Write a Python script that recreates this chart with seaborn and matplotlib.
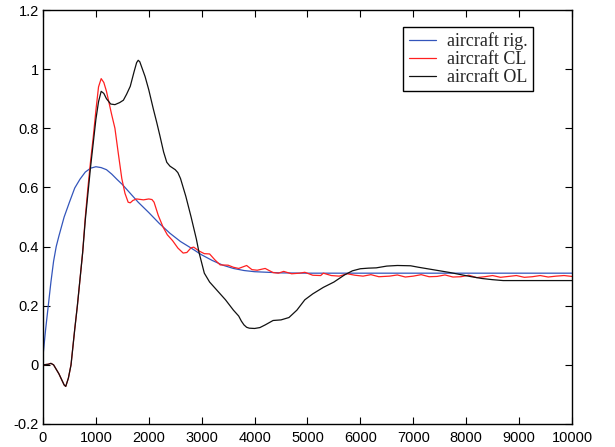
import matplotlib
matplotlib.use("Agg")
import matplotlib.pyplot as plt
import seaborn as sns

# ---------------- data ----------------
rig_x = [0, 50, 100, 150, 200, 250, 300, 400, 500, 600, 700, 800, 900, 1000, 1100,
         1200, 1300, 1400, 1500, 1600, 1800, 2000, 2200, 2400, 2600, 2800, 3000,
         3200, 3400, 3600, 3800, 4000, 4500, 5000, 10000]
rig_y = [0.03, 0.12, 0.20, 0.28, 0.35, 0.40, 0.435, 0.50, 0.55, 0.598, 0.628, 0.652,
         0.665, 0.670, 0.667, 0.660, 0.645, 0.627, 0.610, 0.590, 0.550, 0.515, 0.478,
         0.445, 0.417, 0.395, 0.372, 0.353, 0.337, 0.326, 0.319, 0.315, 0.311, 0.310,
         0.310]

cl_x = [0, 100, 150, 200, 300, 400, 430, 480, 530, 600, 650, 700, 750, 800, 850, 900,
        950, 1000, 1050, 1100, 1150, 1200, 1250, 1300, 1360, 1420, 1490, 1550, 1610,
        1650, 1700, 1770, 1900, 2000, 2060, 2100, 2180, 2270, 2350, 2450, 2550, 2650,
        2720, 2800, 2850, 2950, 3050, 3150, 3250, 3350, 3500, 3600, 3700, 3850, 3950,
        4050, 4200, 4350, 4450, 4550, 4700, 4850, 4950, 5100, 5250, 5300, 5450, 5600,
        5750, 5900, 6050, 6200, 6350, 6550, 6700, 6850, 7000, 7150, 7300, 7450, 7600,
        7750, 7900, 8050, 8200, 8350, 8500, 8650, 8800, 8950, 9100, 9250, 9400, 9550,
        9700, 9850, 10000]
cl_y = [0.0, 0.002, 0.005, 0.0, -0.03, -0.068, -0.073, -0.045, 0.0, 0.12, 0.20, 0.29,
        0.38, 0.50, 0.60, 0.69, 0.77, 0.86, 0.94, 0.968, 0.955, 0.925, 0.885, 0.845,
        0.800, 0.720, 0.630, 0.580, 0.550, 0.548, 0.556, 0.561, 0.558, 0.561, 0.559,
        0.550, 0.505, 0.466, 0.440, 0.420, 0.395, 0.378, 0.380, 0.396, 0.398, 0.385,
        0.376, 0.375, 0.355, 0.338, 0.337, 0.330, 0.326, 0.336, 0.322, 0.320, 0.326,
        0.312, 0.310, 0.316, 0.308, 0.310, 0.313, 0.303, 0.302, 0.310, 0.302, 0.300,
        0.308, 0.303, 0.300, 0.305, 0.298, 0.300, 0.304, 0.297, 0.300, 0.305, 0.298,
        0.299, 0.304, 0.297, 0.298, 0.303, 0.295, 0.298, 0.302, 0.296, 0.299, 0.302,
        0.296, 0.298, 0.302, 0.297, 0.300, 0.302, 0.299]

ol_x = [0, 100, 150, 200, 300, 400, 430, 480, 530, 600, 650, 700, 750, 800, 850, 900,
        950, 1000, 1050, 1100, 1150, 1200, 1280, 1360, 1450, 1520, 1580, 1650, 1720,
        1770, 1800, 1830, 1880, 1930, 2000, 2085, 2150, 2210, 2280, 2340, 2400, 2500,
        2550, 2600, 2700, 2800, 2900, 2950, 3050, 3150, 3300, 3450, 3600, 3700, 3750,
        3800, 3850, 3900, 4000, 4100, 4200, 4350, 4500, 4650, 4800, 4950, 5100, 5300,
        5500, 5700, 5850, 6000, 6150, 6300, 6500, 6700, 6950, 7100, 7300, 7500, 7700,
        7900, 8100, 8300, 8500, 8700, 9000, 10000]
ol_y = [0.0, 0.002, 0.005, 0.0, -0.03, -0.068, -0.073, -0.045, 0.0, 0.12, 0.20, 0.29,
        0.38, 0.49, 0.58, 0.67, 0.75, 0.83, 0.89, 0.925, 0.918, 0.900, 0.882, 0.880,
        0.887, 0.895, 0.915, 0.942, 0.990, 1.022, 1.030, 1.025, 1.000, 0.975, 0.930,
        0.866, 0.820, 0.775, 0.720, 0.685, 0.672, 0.660, 0.650, 0.630, 0.570, 0.500,
        0.425, 0.380, 0.310, 0.280, 0.250, 0.220, 0.185, 0.165, 0.148, 0.135, 0.127,
        0.124, 0.123, 0.126, 0.135, 0.150, 0.152, 0.160, 0.185, 0.220, 0.240, 0.262,
        0.280, 0.304, 0.318, 0.325, 0.327, 0.328, 0.334, 0.336, 0.335, 0.330, 0.324,
        0.318, 0.312, 0.305, 0.298, 0.292, 0.288, 0.285, 0.285, 0.285]

labels = ["aircraft rig.", "aircraft CL", "aircraft OL"]
colors = ["#3355bb", "#ff2020", "#111111"]

x_ticks = [0, 1000, 2000, 3000, 4000, 5000, 6000, 7000, 8000, 9000, 10000]
x_ticklabels = ["0", "1000", "2000", "3000", "4000", "5000", "6000", "7000", "8000",
                "9000", "10000"]
y_ticks = [-0.2, 0.0, 0.2, 0.4, 0.6, 0.8, 1.0, 1.2]
y_ticklabels = ["-0.2", "0", "0.2", "0.4", "0.6", "0.8", "1", "1.2"]

# ---------------- plot ----------------
sns.set_style("ticks")
plt.rcParams["font.family"] = ["Liberation Sans", "DejaVu Sans"]

fig = plt.figure(figsize=(6.15, 4.47), dpi=100)
ax = fig.add_axes([0.0699, 0.0515, 0.8601, 0.9261])

series = [(rig_x, rig_y), (cl_x, cl_y), (ol_x, ol_y)]
for (xs, ys), lab, col in zip(series, labels, colors):
    sns.lineplot(x=xs, y=ys, ax=ax, color=col, linewidth=0.9, label=lab,
                 estimator=None, sort=False)

ax.set_xlim(0, 10000)
ax.set_ylim(-0.2, 1.2)
ax.set_xticks(x_ticks)
ax.set_xticklabels(x_ticklabels)
ax.set_yticks(y_ticks)
ax.set_yticklabels(y_ticklabels)
ax.set_xlabel("")
ax.set_ylabel("")

ax.tick_params(direction="in", length=5, width=0.8, top=True, right=True,
               labelsize=10.5, colors="black")
ax.tick_params(axis="x", pad=5)
ax.tick_params(axis="y", pad=3)
for s in ax.spines.values():
    s.set_visible(True)
    s.set_linewidth(1.0)
    s.set_color("black")

leg = ax.legend(loc="upper right", bbox_to_anchor=(0.926, 0.959),
                prop={"family": ["Liberation Serif"], "size": 13},
                frameon=True, fancybox=False, shadow=False, framealpha=1,
                edgecolor="black", handlelength=1.5, labelspacing=0.05,
                borderpad=0.3, handletextpad=0.6, borderaxespad=0)
leg.get_frame().set_linewidth(1.0)

fig.savefig("out.png", dpi=100)
